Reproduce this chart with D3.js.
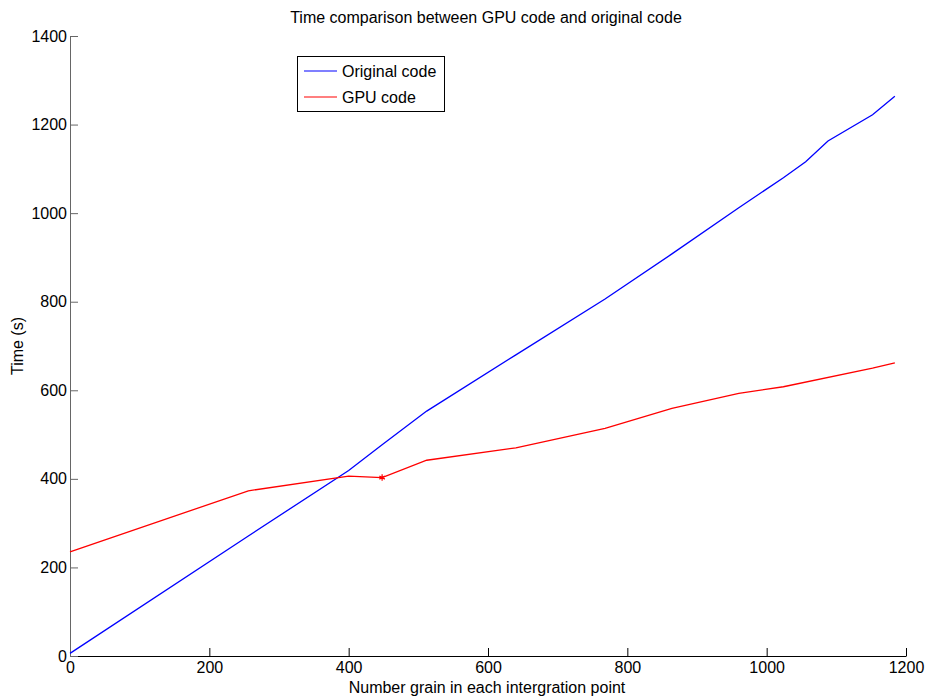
<!DOCTYPE html>
<html>
<head>
<meta charset="utf-8">
<script src="https://cdn.jsdelivr.net/npm/d3@7"></script>
<style>
  body { margin: 0; background: #fff; }
  text { font-family: "Liberation Sans", Arial, sans-serif; fill: #000; }
</style>
</head>
<body>
<div class="content"></div>
<script>
const w = 927;
const h = 697;

// data
const grains = [0, 256, 400, 448, 512, 640, 768, 864, 960, 1024, 1056, 1088, 1152, 1184];
const originalTime = [6, 271, 419, 477, 553, 680, 806, 908, 1012, 1080, 1116, 1163, 1222, 1264];
const gpuGrains = [0, 256, 400, 448, 512, 640, 768, 864, 960, 1024, 1152, 1184];
const gpuTime = [235, 373, 406, 403, 442, 470, 514, 559, 593, 608, 650, 662];
const markGrain = [448];
const markTime = [403];
const xTicks = [0, 200, 400, 600, 800, 1000, 1200];
const yTicks = [0, 200, 400, 600, 800, 1000, 1200, 1400];
const seriesNames = ['Original code', 'GPU code'];

const x = d3.scaleLinear().domain([0, 1200]).range([70, 906]);
const y = d3.scaleLinear().domain([0, 1400]).range([656, 36]);

const svg = d3.select('.content').append('svg')
	.attr('width', w)
	.attr('height', h);

// axes (box off, ticks inside)
const xAxis = svg.append('g')
	.attr('transform', `translate(0,${y(0)})`)
	.call(d3.axisBottom(x).tickValues(xTicks).tickSizeInner(-8).tickSizeOuter(0).tickPadding(6).tickFormat(d3.format('d')));
xAxis.select('.domain').attr('stroke', '#000');
xAxis.selectAll('.tick line').attr('stroke', '#000');
xAxis.selectAll('text').style('font-size', '16px').attr('dy', '0.71em');

const yAxis = svg.append('g')
	.attr('transform', `translate(${x(0)},0)`)
	.call(d3.axisLeft(y).tickValues(yTicks).tickSizeInner(-8).tickSizeOuter(0).tickPadding(3).tickFormat(d3.format('d')));
yAxis.select('.domain').attr('stroke', '#666');
yAxis.selectAll('.tick line').attr('stroke', '#666');
yAxis.selectAll('text').style('font-size', '16px');

const line = d3.line()
	.x(d => x(d[0]))
	.y(d => y(d[1]));

svg.append('path')
	.datum(grains.map((g, i) => [g, originalTime[i]]))
	.attr('d', line)
	.attr('fill', 'none')
	.attr('stroke', '#0000ff')
	.attr('stroke-width', 1.3);

svg.append('path')
	.datum(gpuGrains.map((g, i) => [g, gpuTime[i]]))
	.attr('d', line)
	.attr('fill', 'none')
	.attr('stroke', '#ff0000')
	.attr('stroke-width', 1.3);

svg.selectAll('.mark')
	.data(markGrain.map((g, i) => [g, markTime[i]]))
	.enter()
	.append('path')
	.attr('class', 'mark')
	.attr('transform', d => `translate(${x(d[0])},${y(d[1])})`)
	.attr('d', d3.symbol(d3.symbolAsterisk, 28))
	.attr('fill', 'none')
	.attr('stroke', '#ff0000')
	.attr('stroke-width', 1.2);

// title and labels
svg.append('text')
	.attr('x', 486)
	.attr('y', 23)
	.attr('text-anchor', 'middle')
	.style('font-size', '16px')
	.text('Time comparison between GPU code and original code');

svg.append('text')
	.attr('x', 487)
	.attr('y', 693)
	.attr('text-anchor', 'middle')
	.style('font-size', '16px')
	.text('Number grain in each intergration point');

svg.append('text')
	.attr('transform', 'translate(23,346) rotate(-90)')
	.attr('text-anchor', 'middle')
	.style('font-size', '16px')
	.text('Time (s)');

// legend
const legend = svg.append('g');
legend.append('rect')
	.attr('x', 297.5)
	.attr('y', 56.5)
	.attr('width', 147)
	.attr('height', 55)
	.attr('fill', '#fff')
	.attr('stroke', '#000');

const colors = ['#0000ff', '#ff0000'];
seriesNames.forEach((name, i) => {
	const ly = 71 + i * 26;
	legend.append('line')
		.attr('x1', 304).attr('x2', 337)
		.attr('y1', ly).attr('y2', ly)
		.attr('stroke', colors[i])
		.attr('stroke-width', 1.2);
	legend.append('text')
		.attr('x', 342)
		.attr('y', ly + 6)
		.style('font-size', '16px')
		.text(name);
});
</script>
</body>
</html>
